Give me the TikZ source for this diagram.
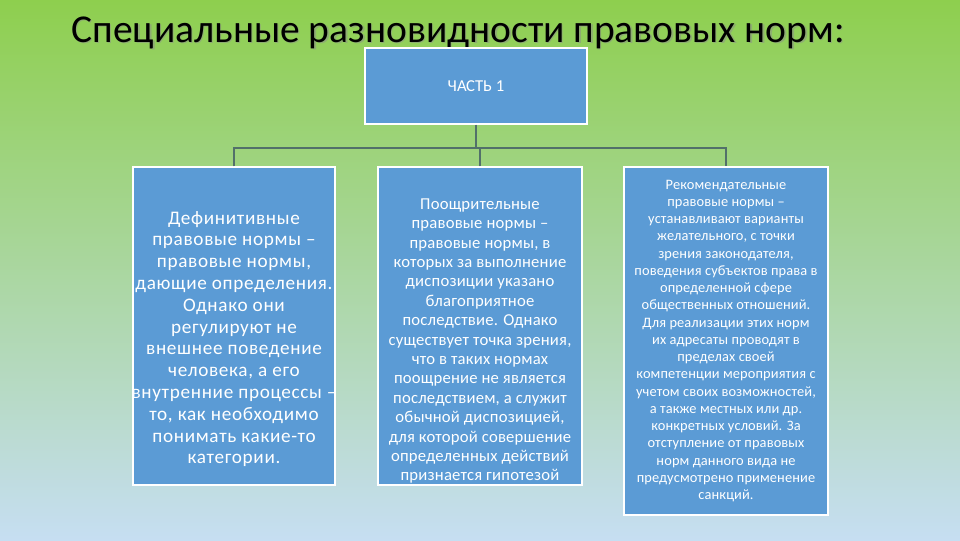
\documentclass[tikz,border=0pt]{standalone}
\usepackage{fontspec}
\setmainfont{Carlito}
\definecolor{bgtop}{HTML}{8ECF4E}
\definecolor{bgmid}{HTML}{A9CF8C}
\definecolor{bgbot}{HTML}{C6DEF2}
\definecolor{boxblue}{HTML}{5B9BD5}
\definecolor{connc}{HTML}{52706A}
\tikzset{
  box/.style={rectangle, draw=white, line width=0.9pt, fill=boxblue, inner sep=0pt},
  boxtext/.style={text=white, align=center, inner sep=0pt},
  conn/.style={draw=connc, line width=0.9pt}
}
\begin{document}
\begin{tikzpicture}[x=0.75pt,y=-0.75pt]
\shade[use as bounding box, top color=bgtop, middle color=bgmid, bottom color=bgbot] (0,0) rectangle (960,540);
\node[anchor=base, text=black!45, opacity=0.5, font=\fontsize{29.6}{36}\selectfont] (titleshadow) at (459.5,43.5) {Специальные разновидности правовых норм:};
\node[anchor=base, font=\fontsize{29.6}{36}\selectfont] (title) at (458,42) {Специальные разновидности правовых норм:};
\node[box, minimum width=166.5pt, minimum height=57pt, text=white, font=\fontsize{12.5}{14}\selectfont] (top) at (476,86) {ЧАСТЬ 1};
\node[box, minimum width=151.5pt, minimum height=238.5pt] (left) at (234,326) {};
\node[box, minimum width=153pt, minimum height=238.5pt] (mid) at (480,326) {};
\node[box, minimum width=153pt, minimum height=261pt] (right) at (726,341) {};
\coordinate (bus) at (0,148);
\draw[conn] (top.south) -- (top.south |- bus);
\draw[conn] (left.north) -- (left.north |- bus) -- (right.north |- bus) -- (right.north);
\draw[conn] (mid.north) -- (mid.north |- bus);
\node[boxtext, font=\fontsize{14.4}{16.35}\selectfont\addfontfeature{LetterSpace=3.5}] (lefttext) at (234,339) {Дефинитивные\\правовые нормы –\\правовые нормы,\\дающие определения.\\Однако они\\регулируют не\\внешнее поведение\\человека, а его\\внутренние процессы –\\то, как необходимо\\понимать какие-то\\категории.};
\node[boxtext, font=\fontsize{12.5}{14.55}\selectfont\addfontfeature{LetterSpace=1.2}] (midtext) at (480,341) {Поощрительные\\правовые нормы –\\правовые нормы, в\\которых за выполнение\\диспозиции указано\\благоприятное\\последствие. Однако\\существует точка зрения,\\что в таких нормах\\поощрение не является\\последствием, а служит\\обычной диспозицией,\\для которой совершение\\определенных действий\\признается гипотезой};
\node[boxtext, font=\fontsize{10.8}{12.94}\selectfont\addfontfeature{LetterSpace=0.8}] (righttext) at (726,341) {Рекомендательные\\правовые нормы –\\устанавливают варианты\\желательного, с точки\\зрения законодателя,\\поведения субъектов права в\\определенной сфере\\общественных отношений.\\Для реализации этих норм\\их адресаты проводят в\\пределах своей\\компетенции мероприятия с\\учетом своих возможностей,\\а также местных или др.\\конкретных условий. За\\отступление от правовых\\норм данного вида не\\предусмотрено применение\\санкций.};
\end{tikzpicture}
\end{document}
